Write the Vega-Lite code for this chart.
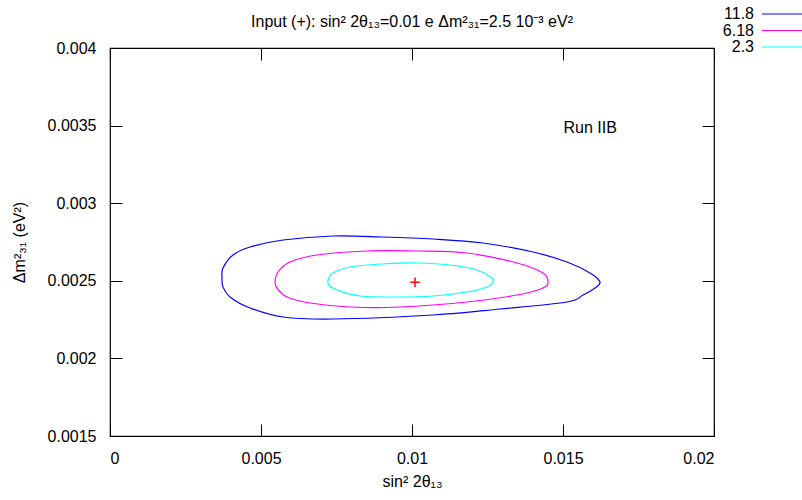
{
  "$schema": "https://vega.github.io/schema/vega-lite/v6.json",
  "width": 604,
  "height": 388,
  "autosize": {"type": "none"},
  "padding": {"left": 110, "top": 48, "right": 88, "bottom": 64},
  "background": "white",
  "config": {
    "font": "Liberation Sans",
    "view": {"stroke": "black", "strokeWidth": 1.2},
    "axis": {"grid": false, "domain": false, "ticks": true, "tickColor": "black", "tickSize": -12, "tickWidth": 1, "labelFont": "Liberation Sans", "labelFontSize": 16, "labelColor": "black", "titleFont": "Liberation Sans", "titleFontSize": 16, "titleFontWeight": "normal", "titleColor": "black"},
    "title": {"font": "Liberation Sans", "fontSize": 16, "fontWeight": "normal", "color": "black"}
  },
  "title": {"text": "Input (+): sin² 2θ₁₃=0.01 e Δm²₃₁=2.5 10⁻³ eV²", "anchor": "middle", "offset": 0, "dy": 24},
  "datasets": {
    "contours": [
      {"level": "11.8", "order": 1, "s2t": 0.003709, "dm2": 0.002518},
      {"level": "11.8", "order": 2, "s2t": 0.003742, "dm2": 0.0025825},
      {"level": "11.8", "order": 3, "s2t": 0.004073, "dm2": 0.0026662},
      {"level": "11.8", "order": 4, "s2t": 0.004636, "dm2": 0.0027178},
      {"level": "11.8", "order": 5, "s2t": 0.005729, "dm2": 0.0027629},
      {"level": "11.8", "order": 6, "s2t": 0.007384, "dm2": 0.0027887},
      {"level": "11.8", "order": 7, "s2t": 0.009040, "dm2": 0.0027822},
      {"level": "11.8", "order": 8, "s2t": 0.010695, "dm2": 0.0027693},
      {"level": "11.8", "order": 9, "s2t": 0.012351, "dm2": 0.0027436},
      {"level": "11.8", "order": 10, "s2t": 0.014007, "dm2": 0.0026856},
      {"level": "11.8", "order": 11, "s2t": 0.015133, "dm2": 0.0026211},
      {"level": "11.8", "order": 12, "s2t": 0.015894, "dm2": 0.0025503},
      {"level": "11.8", "order": 13, "s2t": 0.016225, "dm2": 0.0024923},
      {"level": "11.8", "order": 14, "s2t": 0.016060, "dm2": 0.0024536},
      {"level": "11.8", "order": 15, "s2t": 0.015662, "dm2": 0.0024085},
      {"level": "11.8", "order": 16, "s2t": 0.015133, "dm2": 0.0023634},
      {"level": "11.8", "order": 17, "s2t": 0.012914, "dm2": 0.0023183},
      {"level": "11.8", "order": 18, "s2t": 0.010695, "dm2": 0.0022796},
      {"level": "11.8", "order": 19, "s2t": 0.007384, "dm2": 0.0022539},
      {"level": "11.8", "order": 20, "s2t": 0.005729, "dm2": 0.0022668},
      {"level": "11.8", "order": 21, "s2t": 0.004636, "dm2": 0.0023247},
      {"level": "11.8", "order": 22, "s2t": 0.003974, "dm2": 0.0023956},
      {"level": "11.8", "order": 23, "s2t": 0.003742, "dm2": 0.0024601},
      {"level": "6.18", "order": 1, "s2t": 0.005464, "dm2": 0.0024923},
      {"level": "6.18", "order": 2, "s2t": 0.005563, "dm2": 0.0025567},
      {"level": "6.18", "order": 3, "s2t": 0.005960, "dm2": 0.0026211},
      {"level": "6.18", "order": 4, "s2t": 0.006854, "dm2": 0.0026662},
      {"level": "6.18", "order": 5, "s2t": 0.008510, "dm2": 0.002692},
      {"level": "6.18", "order": 6, "s2t": 0.010166, "dm2": 0.002692},
      {"level": "6.18", "order": 7, "s2t": 0.011821, "dm2": 0.0026791},
      {"level": "6.18", "order": 8, "s2t": 0.013477, "dm2": 0.0026147},
      {"level": "6.18", "order": 9, "s2t": 0.014338, "dm2": 0.0025503},
      {"level": "6.18", "order": 10, "s2t": 0.014503, "dm2": 0.0024923},
      {"level": "6.18", "order": 11, "s2t": 0.014338, "dm2": 0.0024536},
      {"level": "6.18", "order": 12, "s2t": 0.013477, "dm2": 0.0024085},
      {"level": "6.18", "order": 13, "s2t": 0.011821, "dm2": 0.0023634},
      {"level": "6.18", "order": 14, "s2t": 0.009603, "dm2": 0.0023312},
      {"level": "6.18", "order": 15, "s2t": 0.007947, "dm2": 0.0023312},
      {"level": "6.18", "order": 16, "s2t": 0.006623, "dm2": 0.002357},
      {"level": "6.18", "order": 17, "s2t": 0.005861, "dm2": 0.0023956},
      {"level": "6.18", "order": 18, "s2t": 0.005530, "dm2": 0.0024536},
      {"level": "2.3", "order": 1, "s2t": 0.007219, "dm2": 0.0025052},
      {"level": "2.3", "order": 2, "s2t": 0.007384, "dm2": 0.0025503},
      {"level": "2.3", "order": 3, "s2t": 0.007947, "dm2": 0.0025889},
      {"level": "2.3", "order": 4, "s2t": 0.009040, "dm2": 0.0026082},
      {"level": "2.3", "order": 5, "s2t": 0.010166, "dm2": 0.0026147},
      {"level": "2.3", "order": 6, "s2t": 0.011258, "dm2": 0.0026018},
      {"level": "2.3", "order": 7, "s2t": 0.012152, "dm2": 0.0025696},
      {"level": "2.3", "order": 8, "s2t": 0.012649, "dm2": 0.002518},
      {"level": "2.3", "order": 9, "s2t": 0.012682, "dm2": 0.0024923},
      {"level": "2.3", "order": 10, "s2t": 0.012483, "dm2": 0.0024601},
      {"level": "2.3", "order": 11, "s2t": 0.011821, "dm2": 0.0024278},
      {"level": "2.3", "order": 12, "s2t": 0.010695, "dm2": 0.0024021},
      {"level": "2.3", "order": 13, "s2t": 0.009603, "dm2": 0.0023956},
      {"level": "2.3", "order": 14, "s2t": 0.008278, "dm2": 0.0024021},
      {"level": "2.3", "order": 15, "s2t": 0.007517, "dm2": 0.0024407},
      {"level": "2.3", "order": 16, "s2t": 0.007252, "dm2": 0.0024729}
    ],
    "bestfit": [{"s2t": 0.0101, "dm2": 0.00249}],
    "notes": [{"s2t": 0.0159, "dm2": 0.003485, "label": "Run IIB"}]
  },
  "layer": [
    {
      "data": {"name": "contours"},
      "mark": {"type": "line", "interpolate": "cardinal-closed", "strokeWidth": 1.2, "clip": true},
      "encoding": {
        "x": {"field": "s2t", "type": "quantitative", "scale": {"domain": [0, 0.02], "nice": false, "zero": false},
              "axis": {"orient": "bottom", "values": [0, 0.005, 0.01, 0.015, 0.02], "format": "~g", "labelPadding": 26, "title": "sin² 2θ₁₃", "titlePadding": 7}},
        "y": {"field": "dm2", "type": "quantitative", "scale": {"domain": [0.0015, 0.004], "nice": false, "zero": false},
              "axis": {"orient": "left", "values": [0.0015, 0.002, 0.0025, 0.003, 0.0035, 0.004], "format": "~g", "labelPadding": 26, "title": "Δm²₃₁ (eV²)", "titlePadding": 20}},
        "color": {"field": "level", "type": "nominal",
                  "scale": {"domain": ["11.8", "6.18", "2.3"], "range": ["#0000ff", "#ff00ff", "#00ffff"]},
                  "legend": {"orient": "none", "legendX": 669, "legendY": -42, "title": null, "symbolType": "M-5,0H5", "symbolSize": 100, "symbolStrokeWidth": 1.2, "labelFontSize": 16, "labelFont": "Liberation Sans", "labelColor": "black", "labelAlign": "right", "labelOffset": -41, "rowPadding": 0.5}},
        "detail": {"field": "level"},
        "order": {"field": "order", "type": "quantitative"}
      }
    },
    {
      "data": {"name": "bestfit"},
      "mark": {"type": "point", "shape": "M-1,0H1M0,-1V1", "size": 90, "stroke": "#ff0000", "strokeWidth": 1.5, "filled": false, "opacity": 1},
      "encoding": {
        "x": {"field": "s2t", "type": "quantitative", "axis": {"orient": "top", "values": [0, 0.005, 0.01, 0.015, 0.02], "labels": false, "title": null}},
        "y": {"field": "dm2", "type": "quantitative", "axis": {"orient": "right", "values": [0.0015, 0.002, 0.0025, 0.003, 0.0035, 0.004], "labels": false, "title": null}}
      }
    },
    {
      "data": {"name": "notes"},
      "mark": {"type": "text", "font": "Liberation Sans", "fontSize": 16, "color": "black", "align": "center", "baseline": "middle"},
      "encoding": {
        "x": {"field": "s2t", "type": "quantitative", "axis": null},
        "y": {"field": "dm2", "type": "quantitative", "axis": null},
        "text": {"field": "label"}
      }
    }
  ],
  "resolve": {"axis": {"x": "independent", "y": "independent"}}
}
